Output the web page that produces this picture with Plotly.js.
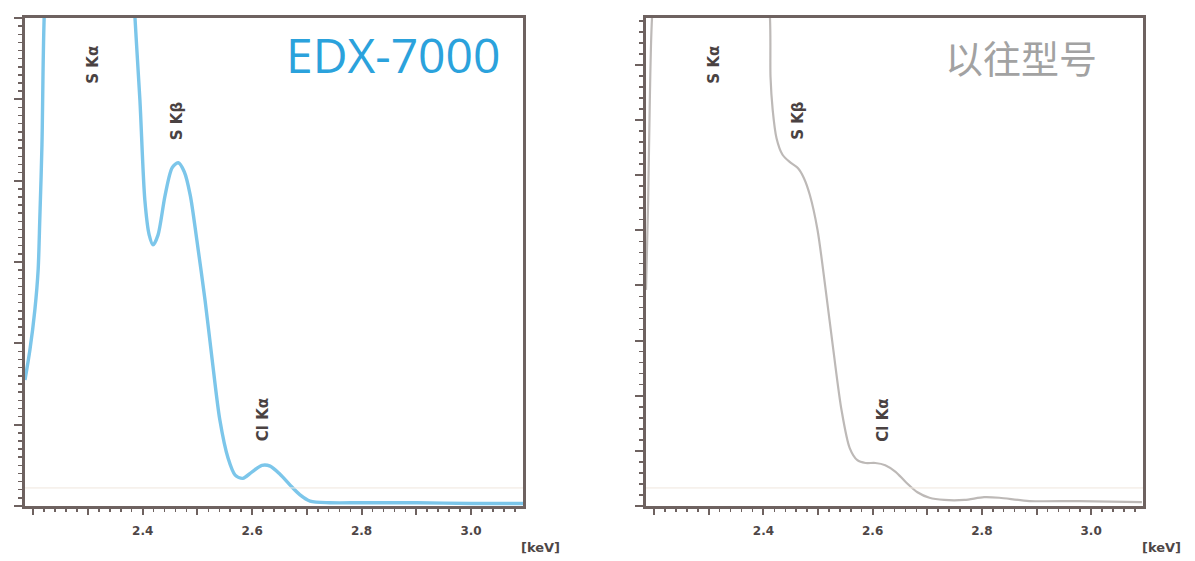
<!DOCTYPE html>
<html>
<head>
<meta charset="utf-8">
<script src="https://cdn.plot.ly/plotly-3.0.1.min.js"></script>
<style>html,body{margin:0;padding:0;background:#fff;}#chart{width:1195px;height:561px;}</style>
</head>
<body>
<div id="chart"></div>
<script>
// ---- data ----
// EDX-7000 spectrum (energy keV, intensity arb.)
const newEnergy = [2.185, 2.194, 2.203, 2.209, 2.212, 2.216, 2.220, 2.24, 2.27, 2.30, 2.33, 2.36,
  2.386, 2.395, 2.404, 2.412, 2.419, 2.428, 2.441, 2.454, 2.465, 2.476, 2.487, 2.499, 2.514, 2.527,
  2.541, 2.556, 2.569, 2.583, 2.600, 2.618, 2.633, 2.651, 2.669, 2.687, 2.706, 2.742, 2.80, 2.90, 3.00, 3.095];
const newCounts = [1.55, 1.92, 2.41, 2.90, 3.52, 4.44, 6.00, 9.0, 13.0, 15.0, 13.5, 9.5,
  6.00, 4.99, 3.76, 3.33, 3.21, 3.33, 3.82, 4.16, 4.22, 4.11, 3.82, 3.27, 2.53, 1.80,
  1.06, 0.59, 0.38, 0.34, 0.42, 0.50, 0.49, 0.39, 0.26, 0.14, 0.06, 0.04, 0.04, 0.04, 0.03, 0.03];

// previous model spectrum
const oldEnergy = [2.185, 2.189, 2.192, 2.196, 2.22, 2.26, 2.30, 2.34, 2.38,
  2.412, 2.413, 2.417, 2.424, 2.435, 2.448, 2.463, 2.474, 2.485, 2.499, 2.514, 2.528, 2.543,
  2.558, 2.572, 2.587, 2.605, 2.623, 2.642, 2.660, 2.682, 2.704, 2.731, 2.768, 2.804, 2.832,
  2.887, 2.978, 3.093];
const oldCounts = [3.92, 5.55, 7.36, 8.85, 12.0, 16.0, 18.0, 17.0, 13.0,
  8.85, 7.78, 7.18, 6.67, 6.37, 6.24, 6.13, 5.95, 5.64, 5.01, 3.92, 2.83, 1.74,
  1.05, 0.83, 0.78, 0.78, 0.74, 0.62, 0.44, 0.25, 0.15, 0.11, 0.11, 0.16, 0.15,
  0.09, 0.09, 0.07];

// peak labels
const peakNames = ["S Kα", "S Kβ", "Cl Kα"];
const peakEnergy = [2.31, 2.464, 2.62];

// x tick labels
const xTickVals = [2.2, 2.3, 2.4, 2.5, 2.6, 2.7, 2.8, 2.9, 3.0];
const xTickText = ["", "", "2.4", "", "2.6", "", "2.8", "", "3.0"];

const panelTitles = ["EDX-7000", "以往型号"];
const unitLabel = "[keV]";

// ---- styling ----
const axisCol = "#6e6260";
const tickFont = {family: "DejaVu Sans", size: 12, color: "#4e4646", weight: "bold"};

function xaxisCfg(domain, anchor) {
  return {
    domain: domain, anchor: anchor, range: [2.185, 3.095],
    tickmode: "array", tickvals: xTickVals, ticktext: xTickText,
    ticks: "outside", ticklen: 6, tickwidth: 2, tickcolor: axisCol,
    minor: {tickmode: "linear", tick0: 2.2, dtick: 0.02, ticks: "outside", ticklen: 3, tickwidth: 1.5, tickcolor: axisCol},
    showline: true, linecolor: axisCol, linewidth: 3, mirror: true,
    showgrid: false, zeroline: false, tickfont: tickFont, ticklabelstandoff: 6
  };
}
function yaxisCfg(top, anchor, minorStep) {
  return {
    domain: [0, 1], anchor: anchor, range: [0, top],
    tickmode: "linear", tick0: 0, dtick: 1,
    ticks: "outside", ticklen: 8, tickwidth: 2, tickcolor: axisCol, showticklabels: false,
    minor: {tickmode: "linear", tick0: 0, dtick: minorStep, ticks: "outside", ticklen: 4, tickwidth: 1.5, tickcolor: axisCol},
    showline: true, linecolor: axisCol, linewidth: 3, mirror: true,
    showgrid: false, zeroline: false
  };
}

const traces = [
  {x: newEnergy, y: newCounts, xaxis: "x", yaxis: "y", type: "scatter", mode: "lines",
   line: {color: "#7cc6ea", width: 3.4, shape: "spline", smoothing: 0.8}, hoverinfo: "skip"},
  {x: oldEnergy, y: oldCounts, xaxis: "x2", yaxis: "y2", type: "scatter", mode: "lines",
   line: {color: "#bdb9b7", width: 2.2, shape: "spline", smoothing: 0.8}, hoverinfo: "skip"}
];

const labelPaperY = [0.905, 0.79, 0.176];
const annotations = [];
[["x", "y"], ["x2", "y2"]].forEach(function (ax) {
  peakNames.forEach(function (name, i) {
    annotations.push({
      text: name, x: peakEnergy[i], xref: ax[0], y: labelPaperY[i], yref: "paper",
      showarrow: false, textangle: -90, xanchor: "center", yanchor: "middle",
      font: {family: "DejaVu Sans", size: 15, color: "#4a4242", weight: "bold"}
    });
  });
});
annotations.push({text: panelTitles[0], xref: "paper", yref: "paper", x: 0.42, y: 0.925,
  xanchor: "right", yanchor: "middle", showarrow: false,
  font: {family: "Open Sans", size: 48, color: "#2ba2dc"}});
annotations.push({text: panelTitles[1], xref: "paper", yref: "paper", x: 0.92, y: 0.922,
  xanchor: "right", yanchor: "middle", showarrow: false,
  font: {family: "Noto Sans CJK SC", size: 38, color: "#a2a2a2"}});
annotations.push({text: unitLabel, xref: "paper", yref: "paper", x: 0.452, y: -0.086,
  xanchor: "center", yanchor: "middle", showarrow: false,
  font: {family: "DejaVu Sans", size: 13, color: "#4e4646", weight: "bold"}});
annotations.push({text: unitLabel, xref: "paper", yref: "paper", x: 0.972, y: -0.086,
  xanchor: "center", yanchor: "middle", showarrow: false,
  font: {family: "DejaVu Sans", size: 13, color: "#4e4646", weight: "bold"}});

const shapes = [
  {type: "line", xref: "x domain", yref: "paper", x0: 0, x1: 1, y0: 0.037, y1: 0.037,
   line: {color: "#efe6de", width: 1}},
  {type: "line", xref: "x2 domain", yref: "paper", x0: 0, x1: 1, y0: 0.037, y1: 0.037,
   line: {color: "#efe6de", width: 1}}
];

const layout = {
  width: 1195, height: 561,
  margin: {l: 0, r: 0, t: 18, b: 55},
  paper_bgcolor: "#ffffff", plot_bgcolor: "#ffffff",
  showlegend: false,
  xaxis: xaxisCfg([25 / 1195, 523 / 1195], "y"),
  yaxis: yaxisCfg(6, "x", 0.1),
  xaxis2: xaxisCfg([646 / 1195, 1143 / 1195], "y2"),
  yaxis2: yaxisCfg(8.85, "x2", 0.2),
  annotations: annotations,
  shapes: shapes
};

Plotly.newPlot("chart", traces, layout, {staticPlot: true, displayModeBar: false});
</script>
</body>
</html>
